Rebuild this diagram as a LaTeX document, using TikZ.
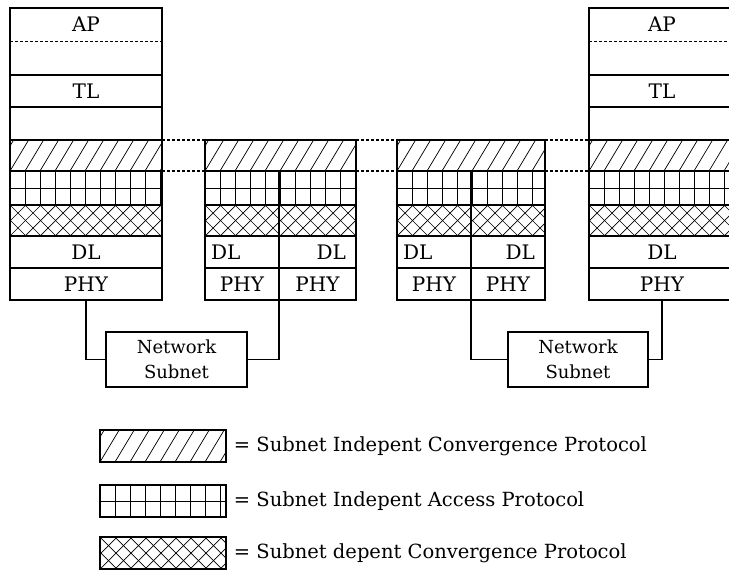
\documentclass[tikz,border=0pt]{standalone}
\usepackage{fontspec}
\setmainfont{DejaVu Serif}
\usetikzlibrary{positioning}

\begin{document}
\begin{tikzpicture}[x=1pt,y=-1pt,node distance=0pt,line width=1.2pt,
    font=\fontsize{20}{22}\selectfont]
  \tikzstyle{cell}=[draw,fill=white,inner sep=0pt,outer sep=0pt]
  \tikzstyle{sic}=[cell,path picture={
      \foreach \k in {-30,-15,...,300}
        \draw[line width=0.7pt] ([xshift=\k pt]path picture bounding box.south west) -- ++(24pt,40pt);}]
  \tikzstyle{sia}=[cell,path picture={
      \foreach \k in {15,30,...,300}
        \draw[line width=0.9pt] ([xshift=\k pt]path picture bounding box.south west) -- ([xshift=\k pt]path picture bounding box.north west);
      \draw[line width=0.9pt] (path picture bounding box.west) -- (path picture bounding box.east);}]
  \tikzstyle{sdc}=[cell,path picture={
      \foreach \k in {-45,-30,...,300}{
        \draw[line width=0.7pt] ([xshift=\k pt]path picture bounding box.south west) -- ++(45pt,45pt);
        \draw[line width=0.7pt] ([xshift=\k pt]path picture bounding box.north west) -- ++(45pt,-45pt);}}]
  \tikzstyle{level}=[dash pattern=on 2.5pt off 2.5pt]

  \useasboundingbox (0,0) rectangle (729,571);

  % end system, left
  \node[cell,minimum width=152pt,minimum height=33pt] (apA) at (86,24.5) {AP};
  \node[cell,minimum width=152pt,minimum height=34pt,below=of apA] (b1A) {};
  \node[cell,minimum width=152pt,minimum height=32pt,below=of b1A] (tlA) {TL};
  \node[cell,minimum width=152pt,minimum height=33pt,below=of tlA] (b2A) {};
  \node[sic,minimum width=152pt,minimum height=31pt,below=of b2A] (sicA) {};
  \node[sia,minimum width=152pt,minimum height=34pt,below=of sicA] (siaA) {};
  \node[sdc,minimum width=152pt,minimum height=31pt,below=of siaA] (sdcA) {};
  \node[cell,minimum width=152pt,minimum height=32pt,below=of sdcA] (dlA) {DL};
  \node[cell,minimum width=152pt,minimum height=32pt,below=of dlA] (phyA) {PHY};

  % first router
  \node[sic,minimum width=151pt,minimum height=31pt] (sicB) at (280.5,155.5) {};
  \node[sia,minimum width=151pt,minimum height=34pt,below=of sicB] (siaB) {};
  \node[sdc,minimum width=151pt,minimum height=31pt,below=of siaB] (sdcB) {};
  \node[cell,minimum height=32pt,inner xsep=6pt,text width=62pt,align=left,below right=of sdcB.south west] (dlB1) {DL};
  \node[cell,minimum height=32pt,inner xsep=10pt,text width=57pt,align=right,right=of dlB1] (dlB2) {DL};
  \node[cell,minimum width=74pt,minimum height=32pt,below=of dlB1] (phyB1) {PHY};
  \node[cell,minimum width=77pt,minimum height=32pt,below=of dlB2] (phyB2) {PHY};

  % second router
  \node[sic,minimum width=148pt,minimum height=31pt] (sicC) at (471,155.5) {};
  \node[sia,minimum width=148pt,minimum height=34pt,below=of sicC] (siaC) {};
  \node[sdc,minimum width=148pt,minimum height=31pt,below=of siaC] (sdcC) {};
  \node[cell,minimum height=32pt,inner xsep=6pt,text width=62pt,align=left,below right=of sdcC.south west] (dlC1) {DL};
  \node[cell,minimum height=32pt,inner xsep=10pt,text width=54pt,align=right,right=of dlC1] (dlC2) {DL};
  \node[cell,minimum width=74pt,minimum height=32pt,below=of dlC1] (phyC1) {PHY};
  \node[cell,minimum width=74pt,minimum height=32pt,below=of dlC2] (phyC2) {PHY};

  % end system, right
  \node[cell,minimum width=146pt,minimum height=33pt] (apD) at (662,24.5) {AP};
  \node[cell,minimum width=146pt,minimum height=34pt,below=of apD] (b1D) {};
  \node[cell,minimum width=146pt,minimum height=32pt,below=of b1D] (tlD) {TL};
  \node[cell,minimum width=146pt,minimum height=33pt,below=of tlD] (b2D) {};
  \node[sic,minimum width=146pt,minimum height=31pt,below=of b2D] (sicD) {};
  \node[sia,minimum width=146pt,minimum height=34pt,below=of sicD] (siaD) {};
  \node[sdc,minimum width=146pt,minimum height=31pt,below=of siaD] (sdcD) {};
  \node[cell,minimum width=146pt,minimum height=32pt,below=of sdcD] (dlD) {DL};
  \node[cell,minimum width=146pt,minimum height=32pt,below=of dlD] (phyD) {PHY};

  % AP is only split off by a dotted line
  \foreach \s in {A,D}{
    \draw[white,line width=1.6pt,shorten <=1pt,shorten >=1pt] (ap\s.south west) -- (ap\s.south east);
    \draw[level,line width=1pt] (ap\s.south west) -- (ap\s.south east);
  }

  % split of the routers
  \draw (dlB1.north east) -- (dlB1.north east |- siaB.north);
  \draw[line width=2pt] (siaB.north -| dlB1.north east) -- (siaB.south -| dlB1.north east);
  \draw (dlC1.north east) -- (dlC1.north east |- siaC.north);
  \foreach \s in {A,B,C,D}
    \draw[line width=2.2pt] (sia\s.north west) -- (sia\s.north east);

  % layer boundaries between systems
  \foreach \a/\b in {A/B,B/C,C/D}{
    \draw[level] (sic\a.north east) -- (sic\b.north west);
    \draw[level] (sic\a.south east) -- (sic\b.south west);
  }

  % subnets
  \node[cell,minimum width=141pt,minimum height=55pt,align=center,
        font=\fontsize{18}{25}\selectfont] (net1) at (176.5,359.5) {Network\\Subnet};
  \node[cell,minimum width=140pt,minimum height=55pt,align=center,
        font=\fontsize{18}{25}\selectfont] (net2) at (578,359.5) {Network\\Subnet};

  \draw (phyA.south) |- (net1.west);
  \draw (net1.east) -| (phyB1.south east);
  \draw (phyC1.south east) |- (net2.west);
  \draw (net2.east) -| (phyD.south);

  % legend
  \node[sic,minimum width=126pt,minimum height=32pt] (keySic) at (163,446) {};
  \node[sia,minimum width=126pt,minimum height=32pt] (keySia) at (163,501) {};
  \node[sdc,minimum width=126pt,minimum height=32pt] (keySdc) at (163,553) {};
  \begin{scope}[font=\fontsize{19.5}{22}\selectfont]
    \node[right=4pt of keySic] (txSic) {= Subnet Indepent Convergence Protocol};
    \node[right=4pt of keySia] (txSia) {= Subnet Indepent Access Protocol};
    \node[right=4pt of keySdc] (txSdc) {= Subnet depent Convergence Protocol};
  \end{scope}
\end{tikzpicture}
\end{document}
